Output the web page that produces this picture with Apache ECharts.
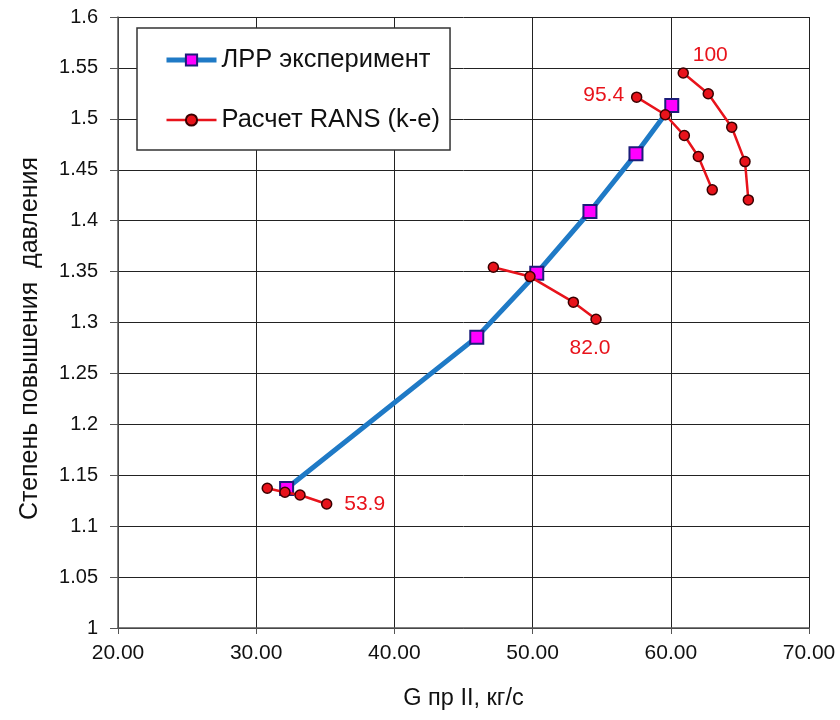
<!DOCTYPE html>
<html>
<head>
<meta charset="utf-8">
<script src="https://cdn.jsdelivr.net/npm/echarts@6/dist/echarts.min.js"></script>
<style>html,body{margin:0;padding:0;background:#fff}#c{width:840px;height:720px}</style>
</head>
<body>
<div id="c"></div>
<script>
const xTicks = [20, 30, 40, 50, 60, 70];
const yTicks = [1, 1.05, 1.1, 1.15, 1.2, 1.25, 1.3, 1.35, 1.4, 1.45, 1.5, 1.55, 1.6];

const expG  = [32.2, 45.96, 50.3, 54.15, 57.48, 60.07];
const expPi = [1.137, 1.2856, 1.3484, 1.409, 1.4656, 1.513];

const rans100G  = [60.9, 62.71, 64.41, 65.37, 65.61];
const rans100Pi = [1.545, 1.5246, 1.4918, 1.458, 1.4204];
const rans954G  = [57.53, 59.6, 60.98, 61.99, 63.0];
const rans954Pi = [1.5213, 1.504, 1.4836, 1.463, 1.4303];
const rans820G  = [47.16, 49.81, 52.95, 54.59];
const rans820Pi = [1.3543, 1.3451, 1.32, 1.3032];
const rans539G  = [30.8, 32.08, 33.17, 35.1];
const rans539Pi = [1.1372, 1.1333, 1.1306, 1.1218];

const speedLabels = ['100', '95.4', '82.0', '53.9'];

const FONT = 'Arial, "Liberation Sans", sans-serif';
const RED = '#e8131b';
const BLUE = '#1f7ac6';

function pts(xs, ys) { return xs.map((x, i) => [x, ys[i]]); }

function ransSeries(xs, ys, label, labelIdx, offset) {
  const data = pts(xs, ys).map((p, i) => {
    if (i !== labelIdx) return p;
    return {
      value: p,
      label: {
        show: true, formatter: label, position: 'inside', offset: offset,
        color: RED, fontSize: 21, fontFamily: FONT
      }
    };
  });
  return {
    name: 'Расчет RANS (k-e)',
    type: 'line',
    data: data,
    symbol: 'circle',
    symbolSize: 10,
    lineStyle: { color: RED, width: 2.5 },
    itemStyle: { color: RED, borderColor: '#3a0000', borderWidth: 1.5 },
    z: 5
  };
}

const chart = echarts.init(document.getElementById('c'), null, { renderer: 'canvas' });
chart.setOption({
  animation: false,
  backgroundColor: '#fff',
  grid: { left: 118, right: 31, top: 17, bottom: 92 },
  legend: {
    left: 137, top: 28,
    orient: 'vertical',
    backgroundColor: '#fff',
    borderColor: '#333',
    borderWidth: 1.5,
    borderRadius: 0,
    padding: [19, 10, 17, 27],
    itemGap: 34,
    itemWidth: 50,
    itemHeight: 14,
    textStyle: { fontSize: 25.5, fontFamily: FONT, color: '#111' },
    data: [
      { name: 'ЛРР эксперимент', lineStyle: { color: BLUE, width: 5 } },
      { name: 'Расчет RANS (k-e)', lineStyle: { color: RED, width: 2.5 } }
    ]
  },
  xAxis: {
    type: 'value',
    min: xTicks[0], max: xTicks[xTicks.length - 1], interval: 10,
    name: 'G пр II, кг/с',
    nameLocation: 'middle',
    nameGap: 59,
    nameTextStyle: { fontSize: 23.5, fontFamily: FONT, color: '#111' },
    axisLine: { show: true, lineStyle: { color: '#555', width: 1.5 } },
    axisTick: { show: true, inside: false, length: 6, lineStyle: { color: '#555' } },
    axisLabel: {
      fontSize: 21, fontFamily: FONT, color: '#111', margin: 15,
      formatter: v => v.toFixed(2)
    },
    splitLine: { show: true, lineStyle: { color: '#222', width: 1 } }
  },
  yAxis: {
    type: 'value',
    min: yTicks[0], max: yTicks[yTicks.length - 1], interval: 0.05,
    name: 'Степень повышения  давления',
    nameLocation: 'middle',
    nameGap: 75,
    nameTextStyle: { fontSize: 25, fontFamily: FONT, color: '#111', padding: [0, 32, 0, 0] },
    axisLine: { show: true, lineStyle: { color: '#555', width: 1.5 } },
    axisTick: { show: true, inside: false, length: 8, lineStyle: { color: '#555' } },
    axisLabel: {
      fontSize: 20, fontFamily: FONT, color: '#111', margin: 20,
      formatter: v => String(parseFloat(v.toFixed(2)))
    },
    splitLine: { show: true, lineStyle: { color: '#222', width: 1 } }
  },
  series: [
    {
      name: 'ЛРР эксперимент',
      type: 'line',
      data: pts(expG, expPi),
      symbol: 'rect',
      symbolSize: 13,
      lineStyle: { color: BLUE, width: 5 },
      itemStyle: { color: '#ff00ff', borderColor: '#1c1c7a', borderWidth: 2 },
      z: 3
    },
    ransSeries(rans100G, rans100Pi, speedLabels[0], 0, [27, -18]),
    ransSeries(rans954G, rans954Pi, speedLabels[1], 0, [-33, -2]),
    ransSeries(rans820G, rans820Pi, speedLabels[2], 3, [-6, 29]),
    ransSeries(rans539G, rans539Pi, speedLabels[3], 3, [38, 0])
  ]
});
</script>
</body>
</html>
